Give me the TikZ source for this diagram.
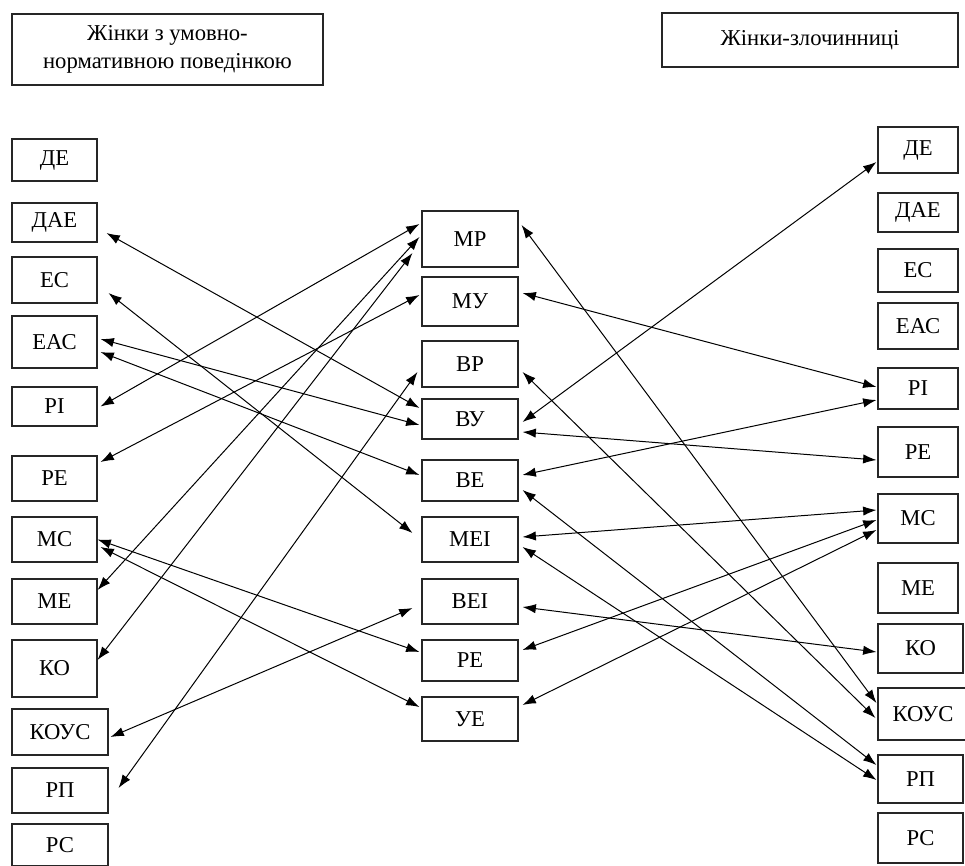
\documentclass[tikz,border=0pt]{standalone}
\usepackage{fontspec}
\setmainfont{Liberation Serif}
\usepackage{tikz}
\usetikzlibrary{arrows.meta, calc, positioning}
\tikzstyle{box} = [rectangle, draw=black!85, line width=0.8pt, inner sep=0pt, text centered, font=\fontsize{17}{21}\selectfont]
\tikzstyle{lbox} = [box, minimum width=63.75pt]
\tikzstyle{lwide} = [box, minimum width=72pt]
\tikzstyle{mbox} = [box, minimum width=72pt]
\tikzstyle{rbox} = [box, minimum width=60pt]
\tikzstyle{rwide} = [box, minimum width=63.75pt]
\tikzstyle{line} = [draw, line width=0.75pt, {Latex[length=10pt,width=7pt]}-{Latex[length=10pt,width=7pt]}]

\begin{document}
\begin{tikzpicture}[x=0.75pt, y=-0.75pt]
	\useasboundingbox (0,0) rectangle (965,865);
	% Headers
	\node(h1) [box, minimum width=233.25pt, minimum height=53.25pt, align=center] at (167.5,49.5) {Жінки з умовно-\\нормативною поведінкою};
	\node(h2) [box, minimum width=222pt, minimum height=40.5pt] at (810,40) {Жінки-злочинниці};

	% Left column
	\node(l1)  [lbox, minimum height=31.5pt]  at (54.5,160)   {ДЕ};
	\node(l2)  [lbox, minimum height=29.25pt] at (54.5,222.5) {ДАЕ};
	\node(l3)  [lbox, minimum height=34.5pt]  at (54.5,280)   {ЕС};
	\node(l4)  [lbox, minimum height=39pt]    at (54.5,342)   {ЕАС};
	\node(l5)  [lbox, minimum height=29.25pt] at (54.5,406.5) {РІ};
	\node(l6)  [lbox, minimum height=33.75pt] at (54.5,478.5) {РЕ};
	\node(l7)  [lbox, minimum height=33.75pt] at (54.5,539.5) {МС};
	\node(l8)  [lbox, minimum height=33.75pt] at (54.5,601.5) {МЕ};
	\node(l9)  [lbox, minimum height=42.75pt] at (54.5,668.5) {КО};
	\node(l10) [lwide, minimum height=34.5pt] at (60,732)     {КОУС};
	\node(l11) [lwide, minimum height=33.75pt] at (60,790.5)  {РП};
	\node(l12) [lwide, minimum height=31.5pt] at (60,845)     {РС};

	% Middle column
	\node(m1) [mbox, minimum height=42pt]    at (470,239)   {МР};
	\node(m2) [mbox, minimum height=36.75pt] at (470,301.5) {МУ};
	\node(m3) [mbox, minimum height=34.5pt]  at (470,364)   {ВР};
	\node(m4) [mbox, minimum height=30pt]    at (470,419)   {ВУ};
	\node(m5) [mbox, minimum height=30.75pt] at (470,480.5) {ВЕ};
	\node(m6) [mbox, minimum height=33.75pt] at (470,539.5) {МЕІ};
	\node(m7) [mbox, minimum height=33.75pt] at (470,601.5) {ВЕІ};
	\node(m8) [mbox, minimum height=30.75pt] at (470,660.5) {РЕ};
	\node(m9) [mbox, minimum height=33pt]    at (470,719)   {УЕ};

	% Right column
	\node(r1)  [rbox, minimum height=34.5pt]  at (918,150)   {ДЕ};
	\node(r2)  [rbox, minimum height=29.25pt] at (918,212.5) {ДАЕ};
	\node(r3)  [rbox, minimum height=32.25pt] at (918,270.5) {ЕС};
	\node(r4)  [rbox, minimum height=34.5pt]  at (918,326)   {ЕАС};
	\node(r5)  [rbox, minimum height=30.75pt] at (918,388.5) {РІ};
	\node(r6)  [rbox, minimum height=37.5pt]  at (918,452)   {РЕ};
	\node(r7)  [rbox, minimum height=36.75pt] at (918,518.5) {МС};
	\node(r8)  [rbox, minimum height=37.5pt]  at (918,588)   {МЕ};
	\node(r9)  [rwide, minimum height=36.75pt] at (920.5,648.5) {КО};
	\node(r10) [box, minimum width=67.5pt, minimum height=39pt] at (923,714) {КОУС};
	\node(r11) [rwide, minimum height=36pt]   at (920.5,779) {РП};
	\node(r12) [rwide, minimum height=37.5pt] at (920.5,838) {РС};

	% Left to middle
	\path [line] ($(l2.east)+(9,10.5)$) -- ($(m4.west)+(-2,-11)$);
	\path [line] ($(l3.east)+(11,13)$) -- ($(m6.west)+(-9,-6.5)$);
	\path [line] ($(l4.east)+(3,-3)$) -- ($(m4.west)+(-2,6)$);
	\path [line] ($(l4.east)+(3,10)$) -- ($(m5.west)+(-2,-5.5)$);
	\path [line] ($(l5.east)+(3,0)$) -- ($(m1.west)+(-2,-15)$);
	\path [line] ($(l6.east)+(3,-16.5)$) -- ($(m2.west)+(-2,-6.5)$);
	\path [line] ($(l8.east)+(0,-11.5)$) -- ($(m1.west)+(-2,-2)$);
	\path [line] ($(l9.east)+(0,-8.5)$) -- ($(m1.west)+(-9,14)$);
	\path [line] ($(l11.east)+(10,-2.5)$) -- ($(m3.west)+(-4,8)$);
	\path [line] (l7.east) -- ($(m8.west)+(-2,-8.5)$);
	\path [line] ($(l7.east)+(3,7.5)$) -- ($(m9.west)+(-2,-12)$);
	\path [line] ($(l10.east)+(2,5)$) -- ($(m7.west)+(-9,6.5)$);

	% Middle to right
	\path [line] ($(m1.east)+(3,-14)$) -- ($(r10.west)+(-1,-11)$);
	\path [line] ($(m3.east)+(4,8)$) -- ($(r10.west)+(-2,4)$);
	\path [line] ($(m5.east)+(4,9.5)$) -- ($(r11.west)+(-1,-14)$);
	\path [line] ($(m6.east)+(4,7.5)$) -- ($(r11.west)+(-1,1)$);
	\path [line] ($(m2.east)+(4,-8.5)$) -- ($(r5.west)+(-1,-1.5)$);
	\path [line] ($(m4.east)+(4,3)$) -- ($(r1.west)+(-1,12)$);
	\path [line] ($(m4.east)+(4,13)$) -- ($(r6.west)+(-1,8)$);
	\path [line] ($(m5.east)+(4,-5.5)$) -- ($(r5.west)+(-1,11.5)$);
	\path [line] ($(m6.east)+(4,-2.5)$) -- ($(r7.west)+(-1,-8.5)$);
	\path [line] ($(m8.east)+(4,-10.5)$) -- ($(r7.west)+(-1,1.5)$);
	\path [line] ($(m9.east)+(4,-14)$) -- ($(r7.west)+(-1,11.5)$);
	\path [line] ($(m7.east)+(4,5.5)$) -- ($(r9.west)+(-1,3.5)$);
\end{tikzpicture}
\end{document}
